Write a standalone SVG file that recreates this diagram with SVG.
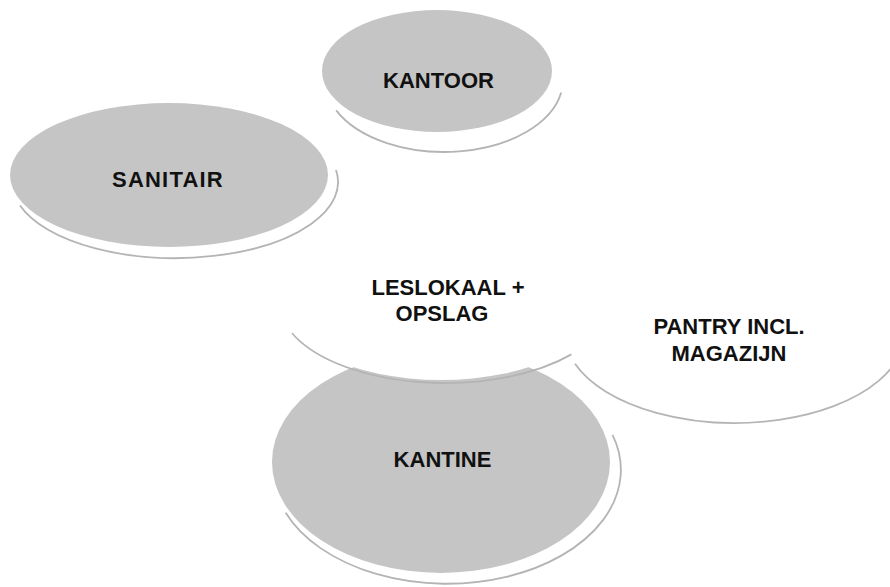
<svg xmlns="http://www.w3.org/2000/svg" width="890" height="587" viewBox="0 0 890 587">
<style>
.g{fill:#c5c5c5}
.w{fill:#ffffff}
.sh{fill:none;stroke:#b4b4b4;stroke-width:1.8}
.t{font-family:"Liberation Sans",Arial,sans-serif;font-weight:bold;font-size:22px;fill:#111;text-anchor:middle}
</style>
<rect width="890" height="587" fill="#ffffff"/>
<g id="kantoor">
<path class="sh" d="M336.2,110.4 A119,72 0 0 0 561.2,92.5"/>
<ellipse class="g" cx="437" cy="71" rx="115" ry="61"/>
<text class="t" x="438.5" y="88">KANTOOR</text>
</g>
<g id="sanitair">
<path class="sh" d="M20,205.5 A163,76 0 0 0 336,170"/>
<ellipse class="g" cx="169" cy="175" rx="159" ry="72"/>
<text class="t" x="168" y="187" font-size="23" letter-spacing="1.2">SANITAIR</text>
</g>
<g id="kantine">
<path class="sh" d="M285.7,512.7 A174,114 0 0 0 612.5,434.8"/>
<ellipse class="g" cx="441" cy="462" rx="169" ry="111"/>
<text class="t" x="442.5" y="467">KANTINE</text>
</g>
<g id="leslokaal">
<path class="sh" d="M292,333 A165,80 0 0 0 571.4,354.4"/>
<ellipse class="w" cx="441" cy="299" rx="163" ry="81"/>
<text class="t" x="448" y="295">LESLOKAAL +</text>
<text class="t" x="442" y="321">OPSLAG</text>
</g>
<g id="pantry">
<path class="sh" d="M575,363.8 A170,90 0 0 0 902,317"/>
<ellipse class="w" cx="730" cy="328" rx="165" ry="90"/>
<text class="t" x="729" y="334">PANTRY INCL.</text>
<text class="t" x="729" y="360.5">MAGAZIJN</text>
</g>
<g id="connectors"></g>
</svg>
